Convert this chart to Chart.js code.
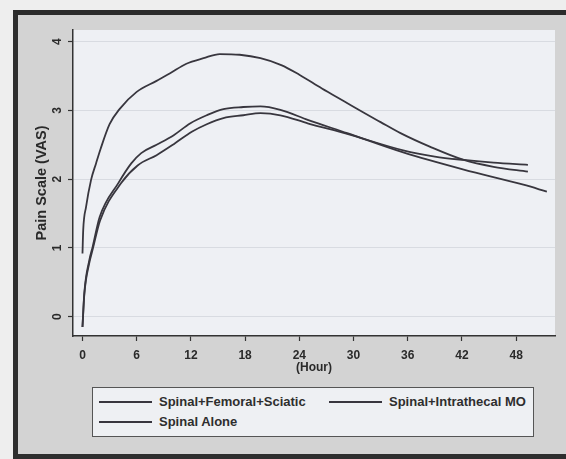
<!DOCTYPE html>
<html><head><meta charset="utf-8">
<script src="https://cdn.jsdelivr.net/npm/chart.js@4.4.1/dist/chart.umd.min.js"></script>
<style>
html,body{margin:0;padding:0;background:#eeeeee;}
#wrap{position:relative;width:566px;height:459px;overflow:hidden;}
#frame{position:absolute;left:13px;top:10px;width:600px;height:439px;border-left:5px solid #2e2e2e;border-top:5px solid #2b2b2b;border-bottom:5px solid #2e2e2e;background:#d3d3d3;}
canvas{position:absolute;left:0;top:0;}
#legend{position:absolute;left:92px;top:387px;width:442px;height:50px;border:1px solid #555;background:#eef0f3;box-sizing:border-box;font:bold 13px 'Liberation Sans',Arial,sans-serif;color:#2e2e2e;}
.item{position:absolute;display:flex;align-items:center;height:16px;line-height:16px;white-space:nowrap;}
.swatch{width:53px;height:0;border-top:2px solid #38363e;margin-right:7px;}
</style></head>
<body>
<div id="wrap">
<div id="frame"></div>
<canvas id="c" width="566" height="459"></canvas>
<div id="legend"></div>
</div>
<script>
// ---- data ----
const seriesNames = ["Spinal+Femoral+Sciatic", "Spinal+Intrathecal MO", "Spinal Alone"];

const hoursA = [0, 0.08, 0.4, 0.95, 1.5, 2.0, 3.0, 4.1, 6.0, 8.2, 9.7, 11.5, 13.4, 15.2, 17.4, 19.7, 22, 24, 26.5, 29, 31.1, 33, 35.2, 38.5, 42.2, 45.5, 49.3];
const painA  = [0.92, 1.26, 1.6, 1.99, 2.23, 2.44, 2.80, 3.02, 3.27, 3.43, 3.54, 3.68, 3.76, 3.82, 3.81, 3.76, 3.66, 3.52, 3.32, 3.13, 2.97, 2.83, 2.67, 2.47, 2.28, 2.18, 2.11];

const hoursB = [0, 0.2, 0.75, 1.13, 1.9, 4.0, 5.4, 6.5, 8.2, 10.1, 11.9, 13.75, 15.6, 17.8, 19.7, 21.9, 25, 29.3, 35.5, 42.2, 48.8, 51.4];
const painB  = [-0.15, 0.34, 0.82, 1.02, 1.45, 1.95, 2.23, 2.38, 2.50, 2.64, 2.81, 2.93, 3.02, 3.05, 3.06, 3.01, 2.86, 2.67, 2.39, 2.14, 1.92, 1.82];

const hoursC = [0, 0.2, 0.75, 1.13, 1.95, 4.26, 6.1, 8.2, 10.1, 12.1, 13.75, 15.6, 17.8, 19.7, 21.9, 25, 29.3, 35.5, 39, 42.2, 45.5, 49.3];
const painC  = [-0.15, 0.32, 0.78, 0.98, 1.40, 1.94, 2.20, 2.35, 2.51, 2.69, 2.80, 2.89, 2.93, 2.96, 2.93, 2.81, 2.66, 2.42, 2.33, 2.28, 2.24, 2.21];

const xTicks = [0, 6, 12, 18, 24, 30, 36, 42, 48];
const yTicks = [0, 1, 2, 3, 4];
const xTitle = "(Hour)";
const yTitle = "Pain Scale (VAS)";

// ---- chart ----
const FONT = "'Liberation Sans', Arial, Helvetica, sans-serif";
const LINE = '#38363e';
const TXT = '#2a2a2a';
const XH = 40;
const toPts = (xs, ys) => xs.map((x, i) => ({x: x, y: ys[i]}));

const plotBg = {
  id: 'plotBg',
  beforeDraw(chart) {
    const {ctx, chartArea: a} = chart;
    ctx.save();
    ctx.fillStyle = '#eef0f4';
    ctx.fillRect(a.left, a.top, a.right - a.left, a.bottom - a.top);
    ctx.restore();
  }
};

const ds = (label, xs, ys) => ({
  label: label, data: toPts(xs, ys), borderColor: LINE, borderWidth: 1.8,
  pointRadius: 0, fill: false, tension: 0.3, cubicInterpolationMode: 'monotone'
});

const chart = new Chart(document.getElementById('c'), {
  type: 'line',
  data: {
    datasets: [
      ds(seriesNames[0], hoursC, painC),
      ds(seriesNames[1], hoursB, painB),
      ds(seriesNames[2], hoursA, painA)
    ]
  },
  options: {
    responsive: false, animation: false, devicePixelRatio: 1,
    layout: {padding: {left: 0, right: 11, top: 30, bottom: 459 - 336 - XH}},
    plugins: {legend: {display: false}, tooltip: {enabled: false}},
    scales: {
      x: {
        type: 'linear', min: -1.05, max: 52.3,
        afterBuildTicks: s => { s.ticks = xTicks.map(v => ({value: v})); },
        afterFit: s => { s.height = XH; },
        grid: {display: true, drawOnChartArea: false, tickLength: 5, tickColor: '#333', tickWidth: 1.2},
        border: {display: true, color: '#333', width: 1.5},
        ticks: {font: {family: FONT, size: 12, weight: 'bold'}, color: TXT, padding: 7, minRotation: 0, maxRotation: 0,
                callback: v => String(v)},
        title: {display: true, text: xTitle, font: {family: FONT, size: 12, weight: 'bold'}, color: TXT, padding: {top: 0, bottom: 1}}
      },
      y: {
        type: 'linear', min: -0.28, max: 4.17,
        afterBuildTicks: s => { s.ticks = yTicks.map(v => ({value: v})); },
        afterFit: s => { s.width = 73; },
        grid: {color: '#d8dbe1', lineWidth: 1, tickLength: 5, tickColor: '#333', tickWidth: 1.2},
        border: {display: true, color: '#333', width: 1.5},
        ticks: {font: {family: FONT, size: 12, weight: 'bold'}, color: TXT, padding: 7, minRotation: 90, maxRotation: 90,
                crossAlign: 'center', callback: v => String(v)},
        title: {display: true, text: yTitle, font: {family: FONT, size: 14.5, weight: 'bold'}, color: TXT, padding: {top: 33, bottom: 0}}
      }
    }
  },
  plugins: [plotBg]
});

// ---- legend (HTML text) ----
const legendPos = [[6, 6], [236, 6], [6, 26]];
const leg = document.getElementById('legend');
seriesNames.forEach((n, i) => {
  const d = document.createElement('div');
  d.className = 'item';
  d.style.left = legendPos[i][0] + 'px';
  d.style.top = legendPos[i][1] + 'px';
  d.innerHTML = '<span class="swatch"></span><span></span>';
  d.lastChild.textContent = n;
  leg.appendChild(d);
});
</script>
</body></html>
